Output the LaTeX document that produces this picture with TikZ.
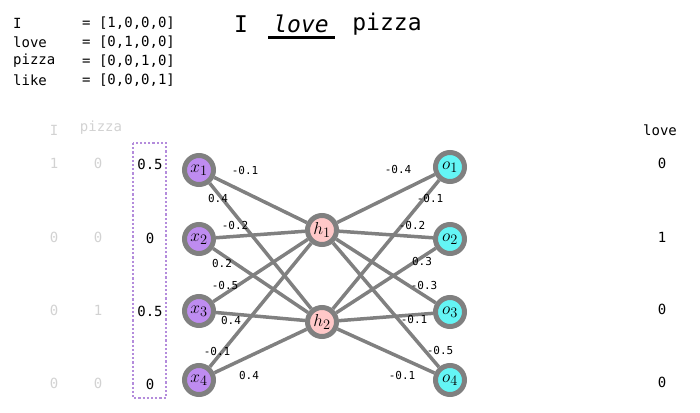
\documentclass[tikz,border=0pt]{standalone}
\usepackage{amsmath}
\usepackage{fontspec}
\setmonofont{DejaVu Sans Mono}
\usepackage{tikz}

\definecolor{edgegray}{RGB}{128,128,128}
\definecolor{inpurple}{RGB}{190,140,240}
\definecolor{hidpink}{RGB}{255,200,200}
\definecolor{outcyan}{RGB}{100,245,245}
\definecolor{boxpurple}{RGB}{180,140,220}
\definecolor{fadegray}{RGB}{210,210,210}

\tikzset{
  neuron/.style={circle,draw=edgegray,line width=5pt,minimum size=29pt,inner sep=0pt,font=\fontsize{19}{21}\selectfont},
  wire/.style={draw=edgegray,line width=3.5pt},
  weight/.style={font=\ttfamily\fontsize{11}{12}\selectfont,inner sep=0pt},
  vocab/.style={font=\ttfamily\fontsize{14}{16}\selectfont,anchor=west,inner sep=0pt},
  val/.style={font=\ttfamily\fontsize{14}{16}\selectfont,inner sep=0pt},
  faded/.style={val,text=fadegray}
}

\begin{document}
\begin{tikzpicture}[x=1pt,y=-1pt]
\useasboundingbox (0,0) rectangle (700,412);

% vocabulary
\node[vocab] (wI) at (13,23) {I};
\node[vocab] (wlove) at (13,42) {love};
\node[vocab] (wpizza) at (13,61) {pizza};
\node[vocab] (wlike) at (13,80) {like};
\node[vocab] (vI) at (82,23) {= [1,0,0,0]};
\node[vocab] (vlove) at (82,42) {= [0,1,0,0]};
\node[vocab] (vpizza) at (82,61) {= [0,0,1,0]};
\node[vocab] (vlike) at (82,80) {= [0,0,0,1]};

% sentence
\node[font=\ttfamily\fontsize{23}{26}\selectfont,inner sep=0pt] (sI) at (241,24) {I};
\node[font=\ttfamily\itshape\fontsize{23}{26}\selectfont,inner sep=0pt] (slove) at (301,24) {love};
\node[font=\ttfamily\fontsize{23}{26}\selectfont,inner sep=0pt] (spizza) at (387,24) {pizza};
\draw[line width=3pt] (268,38) -- (335,38);

% context words
\node[faded] (cI) at (54,130) {I};
\node[faded] (cpizza) at (101,128) {pizza};
\node[faded] (a1) at (54,163) {1};
\node[faded] (a2) at (54,237) {0};
\node[faded] (a3) at (54,310) {0};
\node[faded] (a4) at (54,383) {0};
\node[faded] (b1) at (98,163) {0};
\node[faded] (b2) at (98,237) {0};
\node[faded] (b3) at (98,310) {1};
\node[faded] (b4) at (98,383) {0};

% averaged input
\draw[boxpurple,dotted,line width=2.2pt] (133,143) rectangle (166,398);
\node[val] (m1) at (150,164) {0.5};
\node[val] (m2) at (150,238) {0};
\node[val] (m3) at (150,311) {0.5};
\node[val] (m4) at (150,384) {0};

% neurons
\foreach \i/\y in {1/170,2/239,3/311,4/380}
  \node[neuron,fill=inpurple] (x\i) at (199,\y) {$x_{\i}$};
\node[neuron,fill=hidpink] (h1) at (322,230) {$h_1$};
\node[neuron,fill=hidpink] (h2) at (322,322) {$h_2$};
\foreach \i/\y in {1/167,2/239,3/312,4/380}
  \node[neuron,fill=outcyan] (o\i) at (450,\y) {$o_{\i}$};

% connections
\foreach \i in {1,...,4}{
  \draw[wire] (x\i) -- (h1);
  \draw[wire] (x\i) -- (h2);
  \draw[wire] (h1) -- (o\i);
  \draw[wire] (h2) -- (o\i);
}

% weights
\node[weight] (w11) at (245,170) {-0.1};
\node[weight] (w12) at (218,198) {0.4};
\node[weight] (w21) at (235,225) {-0.2};
\node[weight] (w22) at (222,263) {0.2};
\node[weight] (w31) at (225,285) {-0.5};
\node[weight] (w32) at (231,320) {0.4};
\node[weight] (w41) at (217,351) {-0.1};
\node[weight] (w42) at (249,375) {0.4};
\node[weight] (u11) at (398,169) {-0.4};
\node[weight] (u21) at (430,198) {-0.1};
\node[weight] (u12) at (412,225) {-0.2};
\node[weight] (u22) at (422,261) {0.3};
\node[weight] (u13) at (424,285) {-0.3};
\node[weight] (u23) at (414,319) {-0.1};
\node[weight] (u14) at (440,350) {-0.5};
\node[weight] (u24) at (402,375) {-0.1};

% target
\node[val] (tl) at (660,130) {love};
\node[val] (t1) at (662,163) {0};
\node[val] (t2) at (662,237) {1};
\node[val] (t3) at (662,309) {0};
\node[val] (t4) at (662,382) {0};
\end{tikzpicture}
\end{document}
